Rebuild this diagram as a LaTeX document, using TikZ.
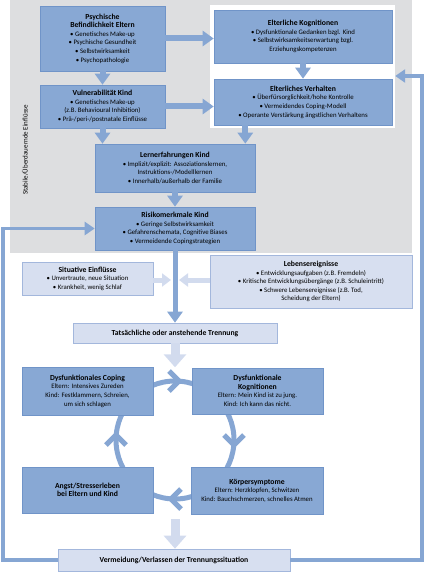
\documentclass[tikz,border=0pt]{standalone}
\usepackage{fontspec}
\setmainfont{Carlito}
\usetikzlibrary{arrows.meta}
\definecolor{bbox}{HTML}{88A8D4}
\definecolor{bborder}{HTML}{7094C8}
\definecolor{lbox}{HTML}{D7DFF0}
\definecolor{lborder}{HTML}{A3B7DC}
\definecolor{larrow}{HTML}{D2DBEE}
\definecolor{bgray}{HTML}{DDDEE0}
\definecolor{barrow}{HTML}{86A6D3}
\newcommand{\bodyfont}{\fontsize{6.8}{8.6}\selectfont}
\newcommand{\boxtitle}[1]{{\fontsize{7.7}{9.6}\selectfont\bfseries #1}}
\begin{document}
\begin{tikzpicture}[x=1pt,y=-1pt,
 bluebox/.style={draw=bborder, fill=bbox, line width=0.6pt, align=center, inner sep=1pt, font=\bodyfont},
 lightbox/.style={draw=lborder, fill=lbox, line width=0.6pt, align=center, inner sep=1pt, font=\bodyfont},
 bigarrow/.style={draw=barrow, line width=6pt, -{Triangle[length=11pt,width=15pt]}},
 lightarrow/.style={draw=larrow, line width=9pt, -{Triangle[length=13pt,width=22pt]}},
 smalllight/.style={draw=larrow, line width=5pt, -{Triangle[length=9pt,width=13pt]}},
 loopline/.style={draw=barrow, line width=3.6pt},
 cyc/.style={draw=barrow, line width=5pt},
]
\useasboundingbox (0,0) rectangle (425,572);
% background
\fill[bgray] (10,0) rectangle (412,253);
\node[fill=white, minimum width=185pt, minimum height=123pt, inner sep=0pt] (white) at (302.5,66.5) {};
% top boxes
\node[bluebox, minimum width=125pt, minimum height=65pt] (psy) at (102.5,38.5)
 {\boxtitle{Psychische}\\\boxtitle{Befindlichkeit Eltern}\\• Genetisches Make-up\\• Psychische Gesundheit\\• Selbstwirksamkeit\\• Psychopathologie};
\node[bluebox, minimum width=125pt, minimum height=43pt] (vul) at (102.5,106.5)
 {\boxtitle{Vulnerabilität Kind}\\• Genetisches Make-up\\(z.B. Behavioural Inhibition)\\• Prä-/peri-/postnatale Einflüsse};
\node[bluebox, minimum width=178pt, minimum height=53pt] (kog) at (303,36.5)
 {\boxtitle{Elterliche Kognitionen}\\• Dysfunktionale Gedanken bzgl. Kind\\• Selbstwirksamkeitserwartung bzgl.\\Erziehungskompetenzen};
\node[bluebox, minimum width=178pt, minimum height=46pt] (verh) at (303,102)
 {\boxtitle{Elterliches Verhalten}\\• Überfürsorglichkeit/hohe Kontrolle\\• Vermeidendes Coping-Modell\\• Operante Verstärkung ängstlichen Verhaltens};
\node[bluebox, minimum width=160pt, minimum height=48pt] (lern) at (175,168)
 {\boxtitle{Lernerfahrungen Kind}\\• Implizit/explizit: Assoziationslernen,\\Instruktions-/Modelllernen\\• Innerhalb/außerhalb der Familie};
\node[bluebox, minimum width=160pt, minimum height=43pt] (risk) at (175,228.5)
 {\boxtitle{Risikomerkmale Kind}\\• Geringe Selbstwirksamkeit\\• Gefahrenschemata, Cognitive Biases\\• Vermeidende Copingstrategien};
\node[rotate=90, font=\fontsize{7}{8}\selectfont] (stab) at (25,150) {Stabile/Überdauernde Einflüsse};
% top arrows
\draw[bigarrow] (psy.east) -- (psy.east -| kog.west);
\draw[bigarrow] (vul.east) -- (vul.east -| verh.west);
\draw[bigarrow] (psy.south) -- (vul.north);
\draw[bigarrow] (kog.south) -- (verh.north);
\draw[bigarrow] (vul.south) -- (vul.south |- lern.north);
\draw[bigarrow] ([xshift=-10pt]lern.north east |- verh.south) -- ([xshift=-10pt]lern.north east);
\draw[bigarrow] (lern.south) -- (risk.north);
% middle
\node[lightbox, minimum width=131pt, minimum height=33pt] (sit) at (87.5,278.5)
 {\boxtitle{Situative Einflüsse}\\• Unvertraute, neue Situation\\• Krankheit, wenig Schlaf};
\node[lightbox, minimum width=202pt, minimum height=53pt] (leb) at (311,281.5)
 {\boxtitle{Lebensereignisse}\\• Entwicklungsaufgaben (z.B. Fremdeln)\\• Kritische Entwicklungsübergänge (z.B. Schuleintritt)\\• Schwere Lebensereignisse (z.B. Tod,\\Scheidung der Eltern)};
\node[lightbox, minimum width=204pt, minimum height=20pt] (trenn) at (175,333)
 {\boxtitle{Tatsächliche oder anstehende Trennung}};
\coordinate (mid) at (175,280);
\draw[smalllight] (sit.east |- mid) -- ([xshift=-4pt]mid);
\draw[smalllight] (leb.west |- mid) -- ([xshift=4pt]mid);
\draw[bigarrow, line width=5pt] (risk.south) -- (trenn.north);
% cycle
\coordinate (cc) at (175,440);
\draw[cyc] (cc) circle (59pt);
\draw[lightarrow] (trenn.south) -- ++(0,24);
\node[bluebox, minimum width=131pt, minimum height=48pt] (cop) at (87.5,391)
 {\boxtitle{Dysfunktionales Coping}\\Eltern: Intensives Zureden\\Kind: Festklammern, Schreien,\\um sich schlagen};
\node[bluebox, minimum width=131pt, minimum height=46pt] (dkog) at (257.5,391)
 {\boxtitle{Dysfunktionale}\\\boxtitle{Kognitionen}\\Eltern: Mein Kind ist zu jung.\\Kind: Ich kann das nicht.};
\node[bluebox, minimum width=131pt, minimum height=46pt] (angst) at (87.5,490)
 {\boxtitle{Angst/Stresserleben}\\\boxtitle{bei Eltern und Kind}};
\node[bluebox, minimum width=132pt, minimum height=47pt] (koerp) at (257,490.5)
 {\boxtitle{Körpersymptome}\\Eltern: Herzklopfen, Schwitzen\\Kind: Bauchschmerzen, schnelles Atmen};
% chevrons
\coordinate (ct) at (179,381);
\coordinate (cr) at (234,445);
\coordinate (cb) at (171,499);
\coordinate (cl) at (116,435);
\draw[cyc] ([shift={(-10,-10)}]ct) -- (ct) -- ([shift={(-10,10)}]ct);
\draw[cyc] ([shift={(-10,-10)}]cr) -- (cr) -- ([shift={(10,-10)}]cr);
\draw[cyc] ([shift={(10,-10)}]cb) -- (cb) -- ([shift={(10,10)}]cb);
\draw[cyc] ([shift={(-10,10)}]cl) -- (cl) -- ([shift={(10,10)}]cl);
% bottom
\node[lightbox, minimum width=232pt, minimum height=22pt] (verm) at (174,560)
 {\boxtitle{Vermeidung/Verlassen der Trennungssituation}};
\coordinate (bt) at (175,519);
\draw[lightarrow] (bt) -- (verm.north -| bt);
% loops
\draw[loopline, -{Triangle[length=10pt,width=13pt]}] (verm.west) -| ([xshift=-92pt]risk.west) -- (risk.west);
\coordinate (rc) at (422,76);
\draw[loopline, -{Triangle[length=10pt,width=13pt]}] (verm.east) -| (rc) -- (rc -| white.east);
\end{tikzpicture}
\end{document}
